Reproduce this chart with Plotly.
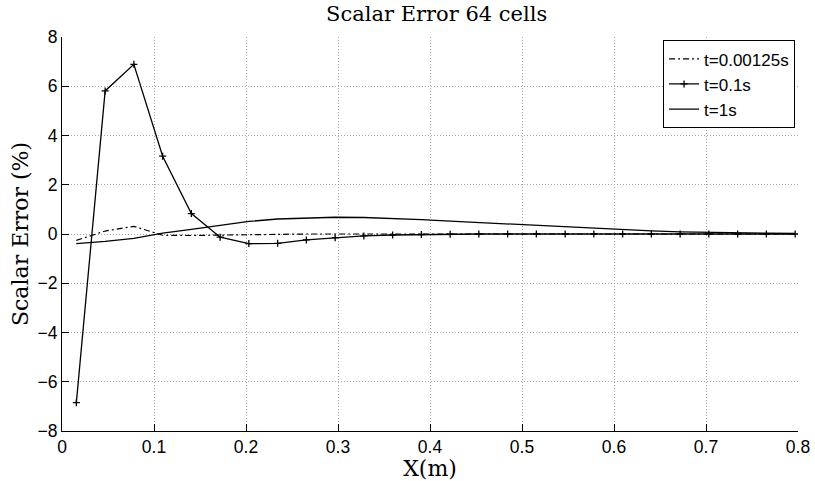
import plotly.graph_objects as go

# cell-centre positions (m)
x_pos = [0.0156, 0.0469, 0.0781, 0.1094, 0.1406, 0.1719, 0.2031, 0.2344, 0.2656,
         0.2969, 0.3281, 0.3594, 0.3906, 0.4219, 0.4531, 0.4844, 0.5156, 0.5469,
         0.5781, 0.6094, 0.6406, 0.6719, 0.7031, 0.7344, 0.7656, 0.7969]

err_t000125 = [-0.26, 0.12, 0.31, -0.05, -0.06, -0.04, -0.02, -0.01, 0.0, 0.0,
               0.0, 0.0, 0.0, 0.0, 0.0, 0.0, 0.0, 0.0, 0.0, 0.0, 0.0, 0.0, 0.0,
               0.0, 0.0, 0.0]

err_t01 = [-6.85, 5.81, 6.89, 3.16, 0.83, -0.13, -0.39, -0.38, -0.24, -0.15,
           -0.08, -0.04, -0.02, -0.01, 0.0, 0.0, 0.0, 0.0, 0.0, 0.0, 0.0, 0.0,
           0.0, 0.0, 0.0, 0.0]

err_t1 = [-0.39, -0.30, -0.18, 0.04, 0.19, 0.35, 0.51, 0.61, 0.66, 0.68, 0.67,
          0.64, 0.58, 0.52, 0.46, 0.40, 0.34, 0.28, 0.23, 0.18, 0.13, 0.09,
          0.06, 0.04, 0.03, 0.02]

series_names = ["t=0.00125s", "t=0.1s", "t=1s"]
x_ticks = [0, 0.1, 0.2, 0.3, 0.4, 0.5, 0.6, 0.7, 0.8]
y_ticks = [-8, -6, -4, -2, 0, 2, 4, 6, 8]

SERIF = "DejaVu Serif"
SANS = "Liberation Sans, Arial, sans-serif"

fig = go.Figure()
fig.add_trace(go.Scatter(x=x_pos, y=err_t000125, mode="lines", name=series_names[0],
                         line=dict(color="black", width=1.2, dash="6px,3px,2px,3px")))
fig.add_trace(go.Scatter(x=x_pos, y=err_t01, mode="lines+markers", name=series_names[1],
                         line=dict(color="black", width=1.3),
                         marker=dict(symbol="cross-thin", size=5, color="black",
                                     line=dict(color="black", width=1.3))))
fig.add_trace(go.Scatter(x=x_pos, y=err_t1, mode="lines", name=series_names[2],
                         line=dict(color="black", width=1.3)))

axis_common = dict(
    showline=True, linecolor="black", linewidth=1,
    ticks="inside", ticklen=7, tickwidth=1, tickcolor="black",
    showgrid=True, gridcolor="#a8a8a8", gridwidth=1, griddash="1px,2px",
    zeroline=False, mirror=False,
    tickfont=dict(family=SANS, size=17.5, color="black"),
)

fig.update_layout(
    width=815, height=481,
    paper_bgcolor="white", plot_bgcolor="white",
    margin=dict(l=61.5, r=16.5, t=36.7, b=50.3, autoexpand=False),
    title=dict(text="Scalar Error 64 cells", x=0.509, xref="paper", xanchor="center",
               y=1 - 13.5 / 481, yref="container", yanchor="middle",
               font=dict(family=SERIF, size=21, color="black")),
    xaxis=dict(range=[0, 0.8], tickvals=x_ticks,
               ticktext=[("0" if v == 0 else f"{v:g}") for v in x_ticks],
               title=dict(text="X(m)", standoff=0,
                          font=dict(family=SERIF, size=22, color="black")),
               **axis_common),
    yaxis=dict(range=[-8, 8], tickvals=y_ticks,
               title=dict(text="Scalar Error (%)", standoff=2,
                          font=dict(family=SERIF, size=22, color="black")),
               **axis_common),
    legend=dict(x=0.996, xanchor="right", y=0.9916, yanchor="top",
                bgcolor="white", bordercolor="black", borderwidth=1,
                font=dict(family=SANS, size=17, color="black"),
                itemwidth=30, tracegroupgap=0),
    showlegend=True,
)

fig.write_html("out.html", config={"displayModeBar": False},
               post_script="document.body.style.margin='0px';")
